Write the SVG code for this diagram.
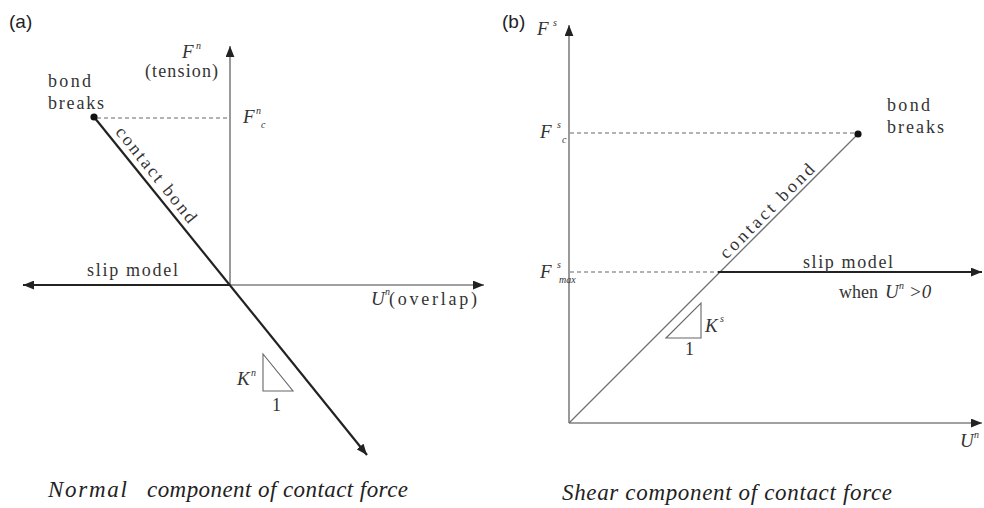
<svg xmlns="http://www.w3.org/2000/svg" width="984" height="508" viewBox="0 0 984 508">
<style>
.ax{stroke:#808080;stroke-width:1.6;fill:none}
.bold{stroke:#222;stroke-width:2.2;fill:none}
.thin{stroke:#707070;stroke-width:1.3;fill:none}
.dash{stroke:#666;stroke-width:1.1;stroke-dasharray:4 3;fill:none}
.tri{stroke:#666;stroke-width:1.1;fill:none}
text{font-family:"Liberation Serif",serif}
.t{font-size:18px;fill:#333}
.it{font-style:italic;font-size:19px;fill:#333}
.sup{font-style:italic;font-size:10px;fill:#333}
.cap{font-style:italic;font-size:23px;fill:#222}
.pl{font-family:"Liberation Sans",sans-serif;font-size:19px;fill:#222}
</style>
<defs>
<marker id="arr" viewBox="0 0 10 8" refX="10" refY="4" markerWidth="11" markerHeight="9" markerUnits="userSpaceOnUse" orient="auto">
<path d="M0,0 L10,4 L0,8 z" fill="#222"/>
</marker>
</defs>
<rect width="984" height="508" fill="#fff"/>

<g id="panel-a" font-family="Liberation Serif, serif">
<text class="pl" x="9" y="28" font-family="Liberation Sans, sans-serif">(a)</text>
<g id="connectors-a">
<line class="ax" x1="230" y1="285" x2="230" y2="46" marker-end="url(#arr)"/>
<line class="ax" x1="230" y1="285" x2="484" y2="285" marker-end="url(#arr)"/>
<line class="bold" x1="230" y1="285" x2="23" y2="285" marker-end="url(#arr)"/>
<line class="bold" x1="94" y1="117" x2="367" y2="455" marker-end="url(#arr)"/>
<line class="dash" x1="97" y1="118" x2="230" y2="118"/>
</g>
<g id="a-break-point">
<circle cx="94" cy="117" r="3.6" fill="#111"/>
<text class="t" x="48" y="87" textLength="43">bond</text>
<text class="t" x="48" y="109" textLength="56">breaks</text>
</g>
<g id="a-labels">
<text class="it" x="182" y="58">F</text><text class="sup" x="196" y="49">n</text>
<text class="t" x="145" y="77" textLength="73">(tension)</text>
<text class="it" x="243" y="123">F</text><text class="sup" x="256" y="114">n</text><text class="sup" x="261" y="128">c</text>
<text class="t" x="87" y="276" textLength="91">slip model</text>
<text class="it" x="371" y="305">U</text><text class="sup" x="385" y="295">n</text>
<text class="t" x="389" y="305" textLength="88">(overlap)</text>
<text class="t" transform="translate(147,182) rotate(51.2)" x="0" y="-6" text-anchor="middle" textLength="118">contact bond</text>
</g>
<g id="a-slope">
<polygon class="tri" points="263,354 263,391 293,391"/>
<text class="it" x="237" y="385">K</text><text class="sup" x="251" y="376">n</text>
<text class="t" x="272" y="411">1</text>
</g>
<text class="cap" x="48" y="497" textLength="79">Normal</text>
<text class="cap" x="147" y="497" textLength="261">component of contact force</text>
</g>

<g id="panel-b" font-family="Liberation Serif, serif">
<text class="pl" x="502" y="28" font-family="Liberation Sans, sans-serif">(b)</text>
<g id="connectors-b">
<line class="ax" x1="569" y1="423" x2="569" y2="25" marker-end="url(#arr)"/>
<line class="ax" x1="569" y1="423" x2="982" y2="423" marker-end="url(#arr)"/>
<line class="thin" x1="569" y1="423" x2="858" y2="134"/>
<line class="dash" x1="570" y1="133" x2="856" y2="133"/>
<line class="dash" x1="570" y1="272" x2="718" y2="272"/>
<line class="bold" x1="718" y1="272" x2="982" y2="272" marker-end="url(#arr)"/>
</g>
<g id="b-break-point">
<circle cx="858" cy="134" r="3.6" fill="#111"/>
<text class="t" x="887" y="111" textLength="43">bond</text>
<text class="t" x="887" y="133" textLength="57">breaks</text>
</g>
<g id="b-labels">
<text class="it" x="537" y="35">F</text><text class="sup" x="553" y="26">s</text>
<text class="it" x="540" y="138">F</text><text class="sup" x="557" y="128">s</text><text class="sup" x="562" y="143">c</text>
<text class="it" x="540" y="278">F</text><text class="sup" x="557" y="268">s</text><text class="sup" x="559" y="283">max</text>
<text class="t" x="803" y="268" textLength="90">slip model</text>
<text class="t" x="839" y="298" textLength="39">when</text>
<text class="it" x="885" y="298">U</text><text class="sup" x="899" y="289">n</text>
<text class="it" x="909" y="298">&gt;0</text>
<text class="it" x="960" y="447">U</text><text class="sup" x="974" y="438">n</text>
<text class="t" transform="translate(774,218) rotate(-45)" x="0" y="-4" text-anchor="middle" textLength="126">contact bond</text>
</g>
<g id="b-slope">
<polygon class="tri" points="666,338 701,303 701,338"/>
<text class="it" x="705" y="332">K</text><text class="sup" x="720" y="322">s</text>
<text class="t" x="685" y="355">1</text>
</g>
<text class="cap" x="562" y="500" textLength="330">Shear component of contact force</text>
</g>
</svg>
